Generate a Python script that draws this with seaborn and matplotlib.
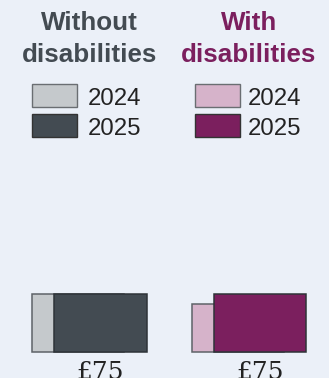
import matplotlib
matplotlib.use("Agg")
import matplotlib.pyplot as plt
import matplotlib.transforms as mtransforms
from matplotlib.patches import Rectangle
import seaborn as sns
import pandas as pd

# ---- data ----
groups = ["Without\ndisabilities", "With\ndisabilities"]
years = ["2024", "2025"]
values_2024 = [75, 62]
values_2025 = [75, 75]
value_labels = ["£75", "£75"]

# ---- styles ----
colors_2024 = ["#C5C9CC", "#D6B3CA"]
colors_2025 = ["#434B52", "#7B1F5E"]
edge_2024 = "#5E6368"
edge_2025 = "#2E3338"
title_colors = ["#434B52", "#7B1F5E"]
bg = "#EBF0F8"
text_dark = "#222222"

W, H = 329, 378
sns.set_theme(style="white")
plt.rcParams["font.family"] = ["Liberation Sans", "DejaVu Sans"]

fig = plt.figure(figsize=(W / 100, H / 100), dpi=100)
fig.patch.set_facecolor(bg)

def fy(py):
    """pixel-from-top -> figure fraction"""
    return (H - py) / H

def fx(px):
    return px / W

# axes region: baseline at 352 px, top at 236 px
base_px, top_px = 352, 236
ax = fig.add_axes([0, fy(base_px), 1, (base_px - top_px) / H])
ax.set_facecolor(bg)

step_px = 159.5
center0_px = 100.5
bar_width = 92 / step_px
offset_2024 = -22.5 / step_px

df24 = pd.DataFrame({"pos": [i + offset_2024 for i in range(len(groups))],
                     "value": values_2024, "group": groups})
df25 = pd.DataFrame({"pos": [float(i) for i in range(len(groups))],
                     "value": values_2025, "group": groups})

sns.barplot(data=df24, x="pos", y="value", hue="group", palette=colors_2024,
            saturation=1, native_scale=True, width=bar_width, dodge=False,
            legend=False, errorbar=None, edgecolor=edge_2024, linewidth=1.1, ax=ax)
sns.barplot(data=df25, x="pos", y="value", hue="group", palette=colors_2025,
            saturation=1, native_scale=True, width=bar_width, dodge=False,
            legend=False, errorbar=None, edgecolor=edge_2025, linewidth=1.1, ax=ax)

ax.set_xlim(-center0_px / step_px, (W - center0_px) / step_px)
ax.set_ylim(0, 150)
ax.axis("off")
for p in ax.patches:
    p.set_clip_on(False)

# value labels under 2025 bars
trans = mtransforms.blended_transform_factory(ax.transData, fig.transFigure)
for i, lab in enumerate(value_labels):
    ax.text(i, fy(379), lab, transform=trans, ha="center", va="baseline",
            fontsize=18, family=["DejaVu Serif"], color=text_dark, clip_on=False)

# group titles
title_cx = [89.5, 249]
line_baselines = [30, 62]
for g, cx, col in zip(groups, title_cx, title_colors):
    for line, bl in zip(g.split("\n"), line_baselines):
        fig.text(fx(cx), fy(bl), line, ha="center", va="baseline",
                 fontsize=18.7, fontweight="bold", color=col)

# legends
sw_left = [31.5, 194.5]
sw_w, sw_h = 45, 23
sw_tops = [83.5, 113.5]
txt_left = [88, 248]
txt_base = [105, 135]
for gi in range(len(groups)):
    cols = [colors_2024[gi], colors_2025[gi]]
    edges = ["#6A6E72", "#333333"]
    for yi, yr in enumerate(years):
        r = Rectangle((fx(sw_left[gi]), fy(sw_tops[yi] + sw_h)), sw_w / W, sw_h / H,
                      transform=fig.transFigure, facecolor=cols[yi],
                      edgecolor=edges[yi], linewidth=1.0)
        fig.patches.append(r)
        fig.text(fx(txt_left[gi]), fy(txt_base[yi]), yr, ha="left", va="baseline",
                 fontsize=17.3, color=text_dark)

fig.savefig("out.png", dpi=100, facecolor=bg)
